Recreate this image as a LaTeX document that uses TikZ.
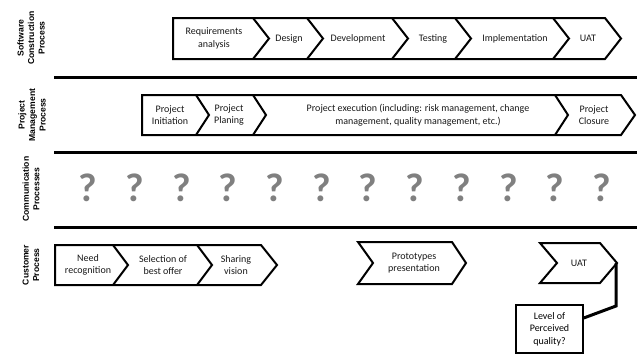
\documentclass[tikz,border=0pt]{standalone}
\usepackage{fontspec}
\setmainfont{Carlito}
\newfontfamily\lblfont{Liberation Sans}
\definecolor{qgray}{RGB}{128,128,128}
\begin{document}
\begin{tikzpicture}[x=1pt,y=-1pt,
  chev/.style={draw=black,line width=2pt,line join=miter,fill=white},
  sep/.style={draw=black,line width=2pt},
  lane/.style={draw=black,line width=3pt},
  txt/.style={font=\fontsize{10}{12.5}\selectfont,align=center,inner sep=0pt,text=black!90},
  lbl/.style={font=\lblfont\bfseries\fontsize{8.6}{10.5}\selectfont,align=center,rotate=90,inner sep=0pt},
  qm/.style={font=\bfseries\fontsize{40}{40}\selectfont,text=qgray,inner sep=0pt}]
\useasboundingbox (0,0) rectangle (637,356);

% lane separators
\draw[lane] (54,77) -- (637,77);
\draw[lane] (54,152) -- (637,152);
\draw[lane] (54,227) -- (637,227);

% lane labels
\node[lbl] (l1) at (31,38) {Software\\Construction\\Process};
\node[lbl] (l2) at (32,115) {Project\\Management\\Process};
\node[lbl] (l3) at (31,189) {Communication\\Processes};
\node[lbl] (l4) at (31,265) {Customer\\Process};

% row 1: software construction
\draw[chev] (173,18) -- (605,18) -- (621,38.5) -- (605,59) -- (173,59) -- cycle;
\foreach \x in {253,307,392,455,553}
  \draw[sep] (\x,18) -- (\x+16,38.5) -- (\x,59);
\node[txt] (req) at (214,38.5) {Requirements\\analysis};
\node[txt] (des) at (289,38.5) {Design};
\node[txt] (dev) at (358,38.5) {Development};
\node[txt] (tst) at (433,38.5) {Testing};
\node[txt] (imp) at (515,38.5) {Implementation};
\node[txt] (uat1) at (588,38.5) {UAT};

% row 2: project management
\draw[chev] (142,95) -- (621,95) -- (635,115) -- (621,135) -- (142,135) -- cycle;
\foreach \x in {196,253,555}
  \draw[sep] (\x,95) -- (\x+13,115) -- (\x,135);
\node[txt] (pin) at (170,115) {Project\\Initiation};
\node[txt] (ppl) at (229,115) {Project\\Planing};
\node[txt] (pex) at (418,115) {Project execution (including: risk management, change\\management, quality management, etc.)};
\node[txt] (pcl) at (594,115) {Project\\Closure};

% row 3: communication
\foreach \i in {0,...,11}
  \node[qm] (q\i) at (88+46.7*\i,188) {?};

% row 4: customer
\draw[chev] (55,245) -- (261,245) -- (277,265) -- (261,285) -- (55,285) -- cycle;
\foreach \x in {113,197}
  \draw[sep] (\x,245) -- (\x+15,265) -- (\x,285);
\node[txt] (need) at (88,265) {Need\\recognition};
\node[txt] (sel) at (163,265) {Selection of\\best offer};
\node[txt] (shr) at (236,265) {Sharing\\vision};

\draw[chev] (358,242) -- (452,242) -- (466,263) -- (452,284) -- (358,284) -- (373,263) -- cycle;
\node[txt] (proto) at (414,263) {Prototypes\\presentation};

\draw[chev] (540,243) -- (600,243) -- (617,263) -- (600,283) -- (540,283) -- (557,263) -- cycle;
\node[txt] (uat2) at (579,263) {UAT};
\coordinate (uattip) at (616,263);

% perceived quality box
\node[draw=black,line width=1.5pt,minimum width=67pt,minimum height=48pt,inner sep=0pt,
  font=\fontsize{10}{12.5}\selectfont,align=center] (lvl) at (549.5,329) {Level of\\Perceived\\quality?};
\draw[line width=3pt] (uattip) -- (616,306) -- ([yshift=11pt]lvl.east);
\end{tikzpicture}
\end{document}
